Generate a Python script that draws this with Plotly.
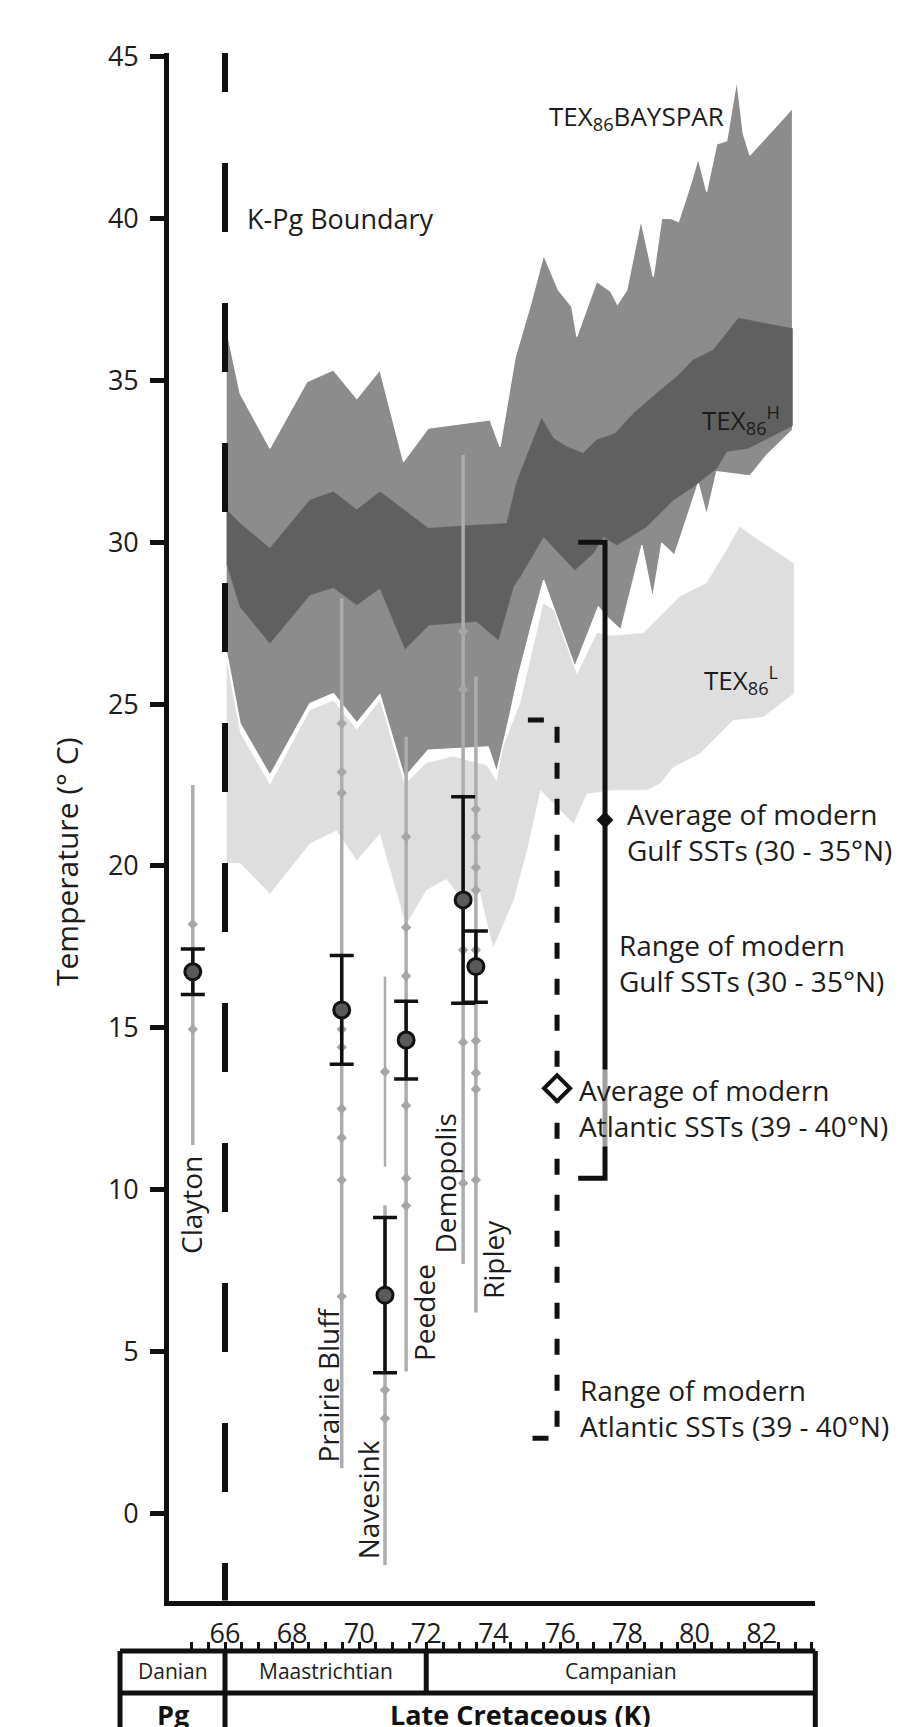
import plotly.graph_objects as go

# ---------------- DATA ----------------
# TEX86 BAYSPAR envelope (age in Ma, temperature in deg C)
bay_top_age = [66.05, 66.45, 67.34, 68.44, 69.23, 69.93, 70.62, 71.32, 72.06, 73.90, 74.20, 74.65, 75.10, 75.50,
               75.94, 76.34, 76.49, 77.08, 77.50, 77.70, 77.98, 78.40, 78.77, 79.02, 79.30, 79.52, 79.86, 80.11,
               80.36, 80.66, 80.96, 81.26, 81.45, 81.65, 82.92]
bay_top_t = [36.55, 34.6, 32.9, 34.96, 35.32, 34.44, 35.32, 32.49, 33.52, 33.78, 32.95, 35.7, 37.3, 38.87,
             37.79, 37.28, 36.35, 38.05, 37.75, 37.35, 37.79, 39.95, 38.2, 40.0, 40.0, 39.9, 40.98, 41.86,
             40.83, 42.3, 42.4, 44.28, 42.63, 41.96, 43.4]
bay_bot_age = [66.05, 66.45, 67.34, 68.53, 69.23, 69.93, 70.62, 71.35, 72.06, 73.85, 74.10, 74.50, 74.74, 75.10,
               75.50, 76.43, 77.13, 77.38, 77.80, 78.43, 78.75, 79.02, 79.40, 79.86, 80.11, 80.36, 80.66, 81.65,
               82.15, 82.92]
bay_bot_t = [26.6, 24.4, 22.8, 25.02, 25.33, 24.42, 25.3, 22.73, 23.58, 23.68, 22.9, 24.7, 25.85, 27.29,
             28.83, 26.15, 28.0, 27.7, 27.29, 29.91, 28.27, 29.97, 29.6, 31.05, 31.82, 30.84, 32.18, 32.05,
             32.69, 33.47]

# TEX86 H envelope
h_top_age = [66.05, 66.45, 67.34, 68.53, 69.23, 69.93, 70.62, 72.06, 73.50, 74.40, 74.70, 75.10, 75.44, 75.79,
             76.19, 76.68, 77.08, 77.63, 78.20, 78.87, 79.47, 79.96, 80.56, 81.31, 82.92]
h_top_t = [31.0, 30.58, 29.81, 31.3, 31.56, 31.0, 31.56, 30.43, 30.53, 30.58, 31.87, 32.9, 33.83, 33.21,
           32.95, 32.75, 33.16, 33.36, 34.0, 34.6, 35.11, 35.63, 35.94, 36.92, 36.6]
h_bot_age = [66.05, 66.45, 67.34, 68.53, 69.23, 69.93, 70.62, 71.37, 72.08, 73.50, 74.15, 74.60, 74.80, 75.50,
             76.43, 76.98, 77.28, 77.68, 78.57, 79.37, 79.96, 80.66, 80.96, 81.60, 82.92]
h_bot_t = [29.35, 28.0, 26.88, 28.37, 28.6, 28.06, 28.58, 26.7, 27.44, 27.55, 26.98, 28.63, 28.93, 30.17,
           29.14, 29.66, 30.17, 29.91, 30.48, 31.3, 31.71, 32.28, 32.8, 32.9, 33.6]

# TEX86 L envelope
l_top_age = [66.05, 66.45, 67.34, 68.53, 69.23, 69.93, 70.62, 71.35, 72.00, 72.80, 73.80, 74.10, 74.30, 74.80,
             75.50, 75.80, 76.49, 77.10, 77.48, 78.47, 78.87, 79.57, 80.36, 80.96, 81.35, 81.75, 82.95]
l_top_t = [26.3, 24.1, 22.5, 24.8, 25.1, 24.2, 25.1, 22.5, 23.17, 23.37, 23.1, 22.6, 23.7, 25.0,
           28.1, 27.9, 25.9, 27.2, 27.1, 27.19, 27.6, 28.32, 28.73, 29.76, 30.48, 30.17, 29.35]
l_bot_age = [66.05, 66.45, 67.34, 68.53, 69.33, 69.93, 70.62, 71.40, 72.00, 72.60, 73.20, 73.60, 74.00, 74.60,
             75.00, 75.40, 76.39, 76.78, 77.58, 78.57, 78.97, 79.37, 80.16, 81.15, 82.05, 82.95]
l_bot_t = [20.1, 20.1, 19.15, 20.7, 21.1, 20.18, 21.0, 18.2, 19.26, 19.6, 18.8, 19.2, 17.5, 18.95,
           20.5, 22.35, 21.32, 22.24, 22.35, 22.35, 22.55, 23.06, 23.48, 24.51, 24.61, 25.33]

# Formations
formations = ["Clayton", "Prairie Bluff", "Navesink", "Peedee", "Demopolis", "Ripley"]
form_age = [65.04, 69.48, 70.77, 71.40, 73.10, 73.48]
range_max = [22.5, 28.27, 9.52, 23.99, 32.69, 25.85]
range_min = [11.38, 1.39, -1.6, 4.38, 7.7, 6.2]
mean_t = [16.73, 15.55, 6.74, 14.62, 18.95, 16.89]
mean_err = [0.70, 1.68, 2.40, 1.20, 3.19, 1.10]
navesink_upper_range = [10.71, 16.58]

clayton_vals = [18.2, 14.95]
prairie_bluff_vals = [24.4, 22.9, 22.25, 14.95, 14.4, 12.5, 11.6, 10.3, 6.7]
navesink_vals = [13.64, 3.81, 2.93]
peedee_vals = [20.9, 18.1, 16.6, 12.6, 10.35, 9.5]
demopolis_vals = [27.25, 25.45, 17.4, 14.55, 10.2]
ripley_vals = [21.75, 20.9, 19.95, 19.25, 17.4, 14.6, 13.6, 13.1, 10.3]

# Modern SSTs
gulf_range = [10.35, 30.0]
gulf_mean = 21.42
atlantic_range = [2.32, 24.51]
atlantic_mean = 13.13

kpg_age = 66.0
y_ticks = [0, 5, 10, 15, 20, 25, 30, 35, 40, 45]
x_ticks = [66, 68, 70, 72, 74, 76, 78, 80, 82]
stages = ["Danian", "Maastrichtian", "Campanian"]
stage_bounds = [62.87, 66.0, 72.0, 83.6]
periods = ["Pg", "Late Cretaceous (K)"]
period_bounds = [62.87, 66.0, 83.6]

# ---------------- STYLE / LAYOUT ----------------
W, H = 921, 1727
FONT = "Open Sans"
TXT = "#1c1c1c"
GRAY = "#adadad"
px_per_ma = 33.54
px_66 = 225.0
px_per_c = 32.37
py_0 = 1513.3

def age_at(px):
    return 66 + (px - px_66) / px_per_ma

def t_at(py):
    return (py_0 - py) / px_per_c

plot_l, plot_r, plot_t, plot_b = 169.2, 815.0, 53.0, 1600.5
tab_l, tab_r, tab_t, tab_b = 100.0, 840.0, 1642.0, float(H)

fig = go.Figure()

def band(top_age, top_t, bot_age, bot_t, color, lc, lw):
    xs = list(top_age) + list(reversed(bot_age))
    ys = list(top_t) + list(reversed(bot_t))
    fig.add_trace(go.Scatter(x=xs, y=ys, fill="toself", fillcolor=color, mode="lines",
                             line=dict(color=lc, width=lw), hoverinfo="skip"))

band(l_top_age, l_top_t, l_bot_age, l_bot_t, "#dedede", "#dedede", 0.5)
band(bay_top_age, bay_top_t, bay_bot_age, bay_bot_t, "#8c8c8c", "white", 1.2)
band(h_top_age, h_top_t, h_bot_age, h_bot_t, "#606060", "#606060", 0.5)

# K-Pg boundary
fig.add_trace(go.Scatter(x=[kpg_age, kpg_age], y=[46.04, -5], mode="lines",
                         line=dict(color="#111111", width=6, dash="69px,71px"), hoverinfo="skip"))

# formation ranges
for a, lo, hi in zip(form_age, range_min, range_max):
    fig.add_trace(go.Scatter(x=[a, a], y=[lo, hi], mode="lines",
                             line=dict(color=GRAY, width=3.5), hoverinfo="skip"))
fig.add_trace(go.Scatter(x=[form_age[2], form_age[2]], y=navesink_upper_range, mode="lines",
                         line=dict(color=GRAY, width=2.5), hoverinfo="skip"))
for a, vals in zip(form_age, [clayton_vals, prairie_bluff_vals, navesink_vals, peedee_vals,
                              demopolis_vals, ripley_vals]):
    fig.add_trace(go.Scatter(x=[a] * len(vals), y=vals, mode="markers",
                             marker=dict(symbol="diamond", size=8, color="#a6a6a6"), hoverinfo="skip"))

# means with error bars
fig.add_trace(go.Scatter(x=form_age, y=mean_t, mode="markers",
                         error_y=dict(type="data", array=mean_err, color="#111111", thickness=3.5, width=12),
                         marker=dict(symbol="circle", size=16, color="#5a5a5a",
                                     line=dict(color="#111111", width=3)), hoverinfo="skip"))

# Gulf bracket
gx, gtick = 77.33, 0.8
fig.add_trace(go.Scatter(x=[gx - gtick, gx, gx, gx - gtick],
                         y=[gulf_range[1], gulf_range[1], gulf_range[0], gulf_range[0]],
                         mode="lines", line=dict(color="#111111", width=5), hoverinfo="skip"))
# Atlantic bracket
ax_, atick = 75.9, 0.87
fig.add_trace(go.Scatter(x=[ax_ - atick, ax_, ax_, ax_ - atick],
                         y=[atlantic_range[1], atlantic_range[1], atlantic_range[0], atlantic_range[0]],
                         mode="lines", line=dict(color="#111111", width=5, dash="16px,20px"), hoverinfo="skip"))

ann = []
ann.append(dict(x=age_at(576.7), y=t_at(1107.5), xref="x", yref="y", xanchor="left", yanchor="middle",
                text="Average of modern<br>Atlantic SSTs (39 - 40°N)", showarrow=False, align="left",
                bgcolor="rgba(255,255,255,0.6)", font=dict(size=28, color=TXT, family=FONT)))

fig.add_trace(go.Scatter(x=[gx], y=[gulf_mean], mode="markers",
                         marker=dict(symbol="diamond", size=13, color="#111111"), hoverinfo="skip"))
fig.add_trace(go.Scatter(x=[ax_], y=[atlantic_mean], mode="markers",
                         marker=dict(symbol="diamond", size=20, color="white",
                                     line=dict(color="#111111", width=4)), hoverinfo="skip"))

def txt(x, y, s, size=26, xanchor="left", angle=0):
    ann.append(dict(x=x, y=y, xref="x", yref="y", xanchor=xanchor, yanchor="middle", text=s,
                    showarrow=False, align="left", textangle=angle,
                    font=dict(size=size, color=TXT, family=FONT)))

txt(age_at(245), t_at(218), "K-Pg Boundary", size=27)
txt(age_at(546.7), t_at(117), "TEX<sub>86</sub>BAYSPAR")
txt(age_at(700), t_at(420), "TEX<sub>86</sub><sup>H</sup>")
txt(age_at(701.7), t_at(680), "TEX<sub>86</sub><sup>L</sup>")
txt(age_at(625), t_at(831.7), "Average of modern<br>Gulf SSTs (30 - 35°N)", size=28)
txt(age_at(616.7), t_at(962.5), "Range of modern<br>Gulf SSTs (30 - 35°N)", size=28)
txt(age_at(578.3), t_at(1408.3), "Range of modern<br>Atlantic SSTs (39 - 40°N)", size=28)

label_pos = [(191, 1205), (327.5, 1385), (368.3, 1500), (424, 1313), (444, 1183.5), (493, 1260)]
for name, (lx, ly) in zip(formations, label_pos):
    txt(age_at(lx), t_at(ly), name, size=28, xanchor="center", angle=-90)

# y-axis title
ann.append(dict(x=66 / W, y=(H - 862) / H, xref="paper", yref="paper", text="Temperature (° C)",
                textangle=-90, showarrow=False, xanchor="center", yanchor="middle",
                font=dict(size=30, color=TXT, family=FONT)))

# timescale table texts
for i, s in enumerate(stages):
    ann.append(dict(x=(stage_bounds[i] + stage_bounds[i + 1]) / 2, y=0.52, xref="x2", yref="y2", text=s,
                    showarrow=False, font=dict(size=21, color=TXT, family=FONT)))
for i, s in enumerate(periods):
    ann.append(dict(x=(period_bounds[i] + period_bounds[i + 1]) / 2, y=-0.5, xref="x2", yref="y2", text=s,
                    showarrow=False, font=dict(size=27, color="#111111", family=FONT, weight="bold")))

shapes = []
def seg(x0, y0, x1, y1):
    shapes.append(dict(type="line", xref="x2", yref="y2", x0=x0, y0=y0, x1=x1, y1=y1,
                       line=dict(color="#111111", width=5)))
seg(stage_bounds[0], 1, stage_bounds[-1], 1)
seg(stage_bounds[0], 0, stage_bounds[-1], 0)
seg(stage_bounds[0], -1.5, stage_bounds[0], 1)
seg(stage_bounds[-1], -1.5, stage_bounds[-1], 1)
seg(period_bounds[1], -1.5, period_bounds[1], 1)
for b in stage_bounds[2:-1]:
    seg(b, 0, b, 1)

minor_vals = [65 + 0.5 * i for i in range(38)]

fig.update_layout(
    width=W, height=H, margin=dict(l=0, r=0, t=0, b=0, autoexpand=False),
    plot_bgcolor="white", paper_bgcolor="white", showlegend=False,
    font=dict(family=FONT, color=TXT),
    xaxis=dict(domain=[plot_l / W, plot_r / W], range=[age_at(plot_l), age_at(plot_r)], automargin=False,
               showline=True, linewidth=5, linecolor="#111111", ticks="", showticklabels=False,
               showgrid=False, zeroline=False),
    yaxis=dict(domain=[(H - plot_b) / H, (H - plot_t) / H], range=[t_at(plot_b), t_at(plot_t)],
               automargin=False,
               showline=True, linewidth=5, linecolor="#111111", tickvals=y_ticks, ticks="outside",
               ticklen=14, tickwidth=5, tickcolor="#111111", tickfont=dict(size=27, color=TXT),
               ticklabelstandoff=6, showgrid=False, zeroline=False),
    xaxis2=dict(domain=[tab_l / W, tab_r / W], range=[age_at(tab_l), age_at(tab_r)], anchor="y2",
                automargin=False,
                side="top", tickvals=x_ticks, ticks="inside", ticklen=9, tickwidth=3, tickcolor="#111111",
                tickfont=dict(size=27, color=TXT), ticklabelstandoff=-7,
                showline=False, showgrid=False, zeroline=False,
                minor=dict(tickvals=minor_vals, ticks="inside", ticklen=9, tickwidth=2.5, tickcolor="#111111")),
    yaxis2=dict(domain=[0, (H - tab_t) / H], range=[-(tab_b - 1693) / 42, 1 + (1651 - tab_t) / 42],
                anchor="x2", visible=False, automargin=False),
    annotations=ann, shapes=shapes,
)

fig.write_html("out.html", config={"displayModeBar": False},
               post_script="document.body.style.margin='0';")
